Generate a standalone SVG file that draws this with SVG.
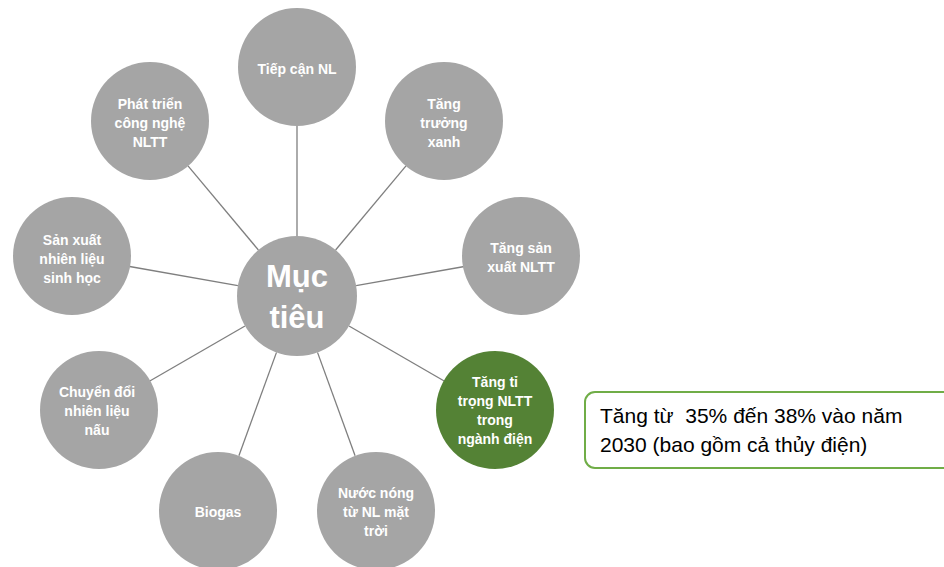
<svg xmlns="http://www.w3.org/2000/svg" width="944" height="567" viewBox="0 0 944 567">
<style>
.n{fill:#A5A5A5}
.g{fill:#548235}
.t{font-family:"Liberation Sans",Arial,sans-serif;font-weight:bold;font-size:14px;fill:#fff;text-anchor:middle}
.c{font-family:"Liberation Sans",Arial,sans-serif;font-weight:bold;font-size:31px;fill:#fff;text-anchor:middle}
.b{font-family:"Liberation Sans",Arial,sans-serif;font-size:21px;fill:#000}
line{stroke:#7F7F7F;stroke-width:1.3}
</style>
<rect width="944" height="567" fill="#fff"/>
<g id="connectors">
<line x1="297" y1="236" x2="297" y2="126"/>
<line x1="335.6" y1="250" x2="406" y2="165.8"/>
<line x1="356.1" y1="285.6" x2="464.4" y2="266.5"/>
<line x1="349" y1="326" x2="444.2" y2="381"/>
<line x1="317.5" y1="352.4" x2="355.1" y2="455.7"/>
<line x1="276.5" y1="352.4" x2="238.9" y2="455.7"/>
<line x1="245" y1="326" x2="149.8" y2="381"/>
<line x1="237.9" y1="285.6" x2="129.6" y2="266.5"/>
<line x1="258.4" y1="250" x2="188" y2="165.8"/>
</g>
<g id="center">
<circle class="n" cx="297" cy="296" r="60"/>
<text class="c" x="297" y="287">Mục</text>
<text class="c" x="297" y="328">tiêu</text>
</g>
<g id="n1">
<circle class="n" cx="297" cy="67" r="59"/>
<text class="t" x="297" y="74">Tiếp cận NL</text>
</g>
<g id="n2">
<circle class="n" cx="444" cy="121" r="59"/>
<text class="t" x="444" y="109">Tăng</text>
<text class="t" x="444" y="128">trưởng</text>
<text class="t" x="444" y="147">xanh</text>
</g>
<g id="n3">
<circle class="n" cx="521" cy="256" r="59"/>
<text class="t" x="521" y="253">Tăng sản</text>
<text class="t" x="521" y="272">xuất NLTT</text>
</g>
<g id="n4">
<circle class="g" cx="495" cy="410" r="59"/>
<text class="t" x="495" y="387">Tăng tỉ</text>
<text class="t" x="495" y="406">trọng NLTT</text>
<text class="t" x="495" y="425">trong</text>
<text class="t" x="495" y="444">ngành điện</text>
</g>
<g id="n5">
<circle class="n" cx="376" cy="511" r="59"/>
<text class="t" x="376" y="498">Nước nóng</text>
<text class="t" x="376" y="517">từ NL mặt</text>
<text class="t" x="376" y="536">trời</text>
</g>
<g id="n6">
<circle class="n" cx="218" cy="511" r="59"/>
<text class="t" x="218" y="517">Biogas</text>
</g>
<g id="n7">
<circle class="n" cx="99" cy="410" r="59"/>
<text class="t" x="97" y="397">Chuyển đổi</text>
<text class="t" x="97" y="416">nhiên liệu</text>
<text class="t" x="97" y="435">nấu</text>
</g>
<g id="n8">
<circle class="n" cx="72" cy="256" r="59"/>
<text class="t" x="72" y="245">Sản xuất</text>
<text class="t" x="72" y="264">nhiên liệu</text>
<text class="t" x="72" y="283">sinh học</text>
</g>
<g id="n9">
<circle class="n" cx="150" cy="121" r="59"/>
<text class="t" x="150" y="109">Phát triển</text>
<text class="t" x="150" y="128">công nghệ</text>
<text class="t" x="150" y="147">NLTT</text>
</g>
<g id="note">
<rect x="585" y="392" width="380" height="76" rx="10" fill="#fff" stroke="#70AD47" stroke-width="2"/>
<text class="b" x="600" y="423" xml:space="preserve">Tăng từ  35% đến 38% vào năm</text>
<text class="b" x="600" y="452">2030 (bao gồm cả thủy điện)</text>
</g>
</svg>
